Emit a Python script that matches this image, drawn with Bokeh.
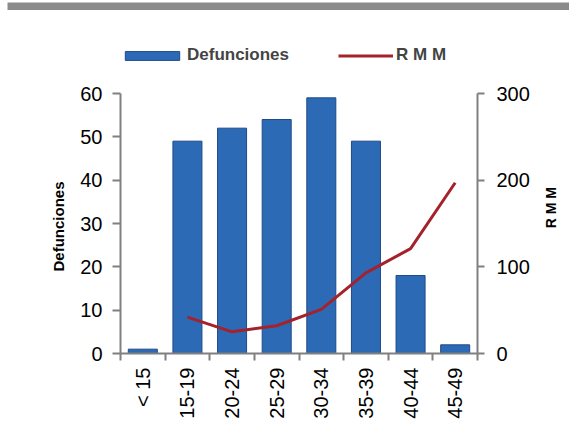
import math
from bokeh.plotting import figure
from bokeh.layouts import column, row
from bokeh.models import (Range1d, LinearAxis, FixedTicker, Legend, LegendItem,
                          Title, Spacer)
from bokeh.core.properties import value
from bokeh.embed import file_html
from bokeh.resources import INLINE

categories = ["< 15", "15-19", "20-24", "25-29", "30-34", "35-39", "40-44", "45-49"]
defunciones = [1, 49, 52, 54, 59, 49, 18, 2]
rmm = [float("nan"), 42, 25, 32, 51, 93, 121, 197]
left_ticks = [0, 10, 20, 30, 40, 50, 60]
right_ticks = [0, 100, 200, 300]

FONT = "Liberation Sans"
AXIS_COLOR = "#808080"

n = len(categories)
xc = [i + 0.5 for i in range(n)]

# frame extends above the top tick to hold the legend; axes are bounded to the ticks
AXIS_PX = 260      # pixel length of the 0..max axis
FRAME_PX = 313     # frame height incl. legend area
scale = FRAME_PX / AXIS_PX
left_max = max(left_ticks)
right_max = max(right_ticks)

MAIN_H = 427
p = figure(width=539, height=MAIN_H, output_backend="svg", toolbar_location=None,
           x_range=Range1d(0, n), y_range=Range1d(0, left_max * scale),
           min_border_left=120, min_border_right=62,
           min_border_top=30, min_border_bottom=84,
           outline_line_color=None, background_fill_color="white",
           border_fill_color="white")
p.xgrid.visible = False
p.ygrid.visible = False
p.extra_y_ranges = {"rmm": Range1d(0, right_max * scale)}

bars = p.vbar(x=xc, top=defunciones, width=0.65, fill_color="#2d6ab6",
              line_color="#1d4a88", line_width=1)
xs_line = [x for x, v in zip(xc, rmm) if not math.isnan(v)]
ys_line = [v for v in rmm if not math.isnan(v)]
line = p.line(x=xs_line, y=ys_line, y_range_name="rmm", line_color="#a3222b",
              line_width=3)

# x axis
xa = p.xaxis[0]
xa.ticker = FixedTicker(ticks=xc, minor_ticks=list(range(n + 1)))
xa.major_label_overrides = {x: c for x, c in zip(xc, categories)}
xa.major_label_orientation = math.pi / 2
xa.major_tick_out = 0
xa.major_tick_in = 0
xa.minor_tick_out = 7
xa.minor_tick_in = 0
xa.minor_tick_line_color = AXIS_COLOR
xa.minor_tick_line_width = 2
xa.axis_line_color = AXIS_COLOR
xa.axis_line_width = 2
xa.major_label_standoff = 7
xa.major_label_text_font = FONT
xa.major_label_text_font_size = "20px"
xa.major_label_text_color = "black"

# left axis
ya = p.yaxis[0]
ya.ticker = FixedTicker(ticks=left_ticks)
ya.bounds = (0, left_max)
ya.minor_tick_line_color = None
ya.major_tick_out = 8
ya.major_tick_in = 0
ya.major_tick_line_color = AXIS_COLOR
ya.major_tick_line_width = 2
ya.axis_line_color = AXIS_COLOR
ya.axis_line_width = 2
ya.major_label_standoff = 10
ya.major_label_text_font = FONT
ya.major_label_text_font_size = "20px"
ya.major_label_text_color = "black"

# left axis title, centred on the 0..60 axis rather than on the frame
left_title = Title(text="Defunciones", align="left", offset=82,
                   text_font=FONT, text_font_style="bold",
                   text_font_size="15px", text_color="black", standoff=22)
p.add_layout(left_title, "left")

# right axis
ra = LinearAxis(y_range_name="rmm", ticker=FixedTicker(ticks=right_ticks),
                bounds=(0, right_max))
ra.minor_tick_line_color = None
ra.major_tick_out = 7
ra.major_tick_in = 0
ra.major_tick_line_color = AXIS_COLOR
ra.major_tick_line_width = 2
ra.axis_line_color = AXIS_COLOR
ra.axis_line_width = 2
ra.major_label_standoff = 12
ra.major_label_text_font = FONT
ra.major_label_text_font_size = "20px"
ra.major_label_text_color = "black"
p.add_layout(ra, "right")

common = dict(orientation="horizontal", glyph_height=11, padding=0, margin=0,
              border_line_color=None, background_fill_alpha=0,
              label_text_font=FONT, label_text_font_style="bold",
              label_text_font_size="17px")
legend1 = Legend(items=[LegendItem(label="Defunciones", renderers=[bars])],
                 location=(-2, 288), glyph_width=68, label_standoff=1, **common)
legend2 = Legend(items=[LegendItem(label="R M M", renderers=[line])],
                 location=(218, 288), glyph_width=55, label_standoff=3, **common)
p.add_layout(legend1, "center")
p.add_layout(legend2, "center")

# narrow strip on the right holding the right-axis title (reads bottom to top)
RW = 30
p2 = figure(width=RW, height=MAIN_H, output_backend="svg", toolbar_location=None,
            x_range=Range1d(0, RW), y_range=Range1d(0, MAIN_H),
            x_axis_location=None, y_axis_location=None,
            min_border=0, outline_line_color=None)
p2.grid.visible = False
p2.text(x=[11], y=[199], text=["R M M"], angle=math.pi / 2,
        text_align="center", text_baseline="middle",
        text_font=value(FONT), text_font_style="bold", text_font_size="14px",
        text_color="black")

# grey header band at the top of the page
band = figure(width=562, height=10, output_backend="svg", toolbar_location=None,
              x_axis_location=None, y_axis_location=None,
              min_border_left=0, min_border_right=0, min_border_top=0,
              min_border_bottom=2, outline_line_color=None,
              background_fill_color="#8b8b8b", border_fill_color="#3a3a3a")
band.grid.visible = False

layout = column(row(Spacer(width=7, height=10), band), row(p, p2))

open("out.html", "w").write(file_html(layout, INLINE))
